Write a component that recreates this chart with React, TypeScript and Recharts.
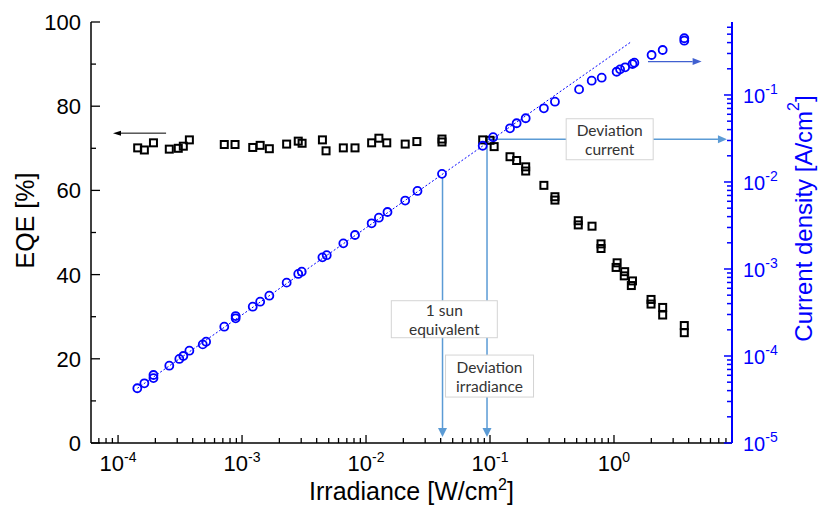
import React from "react";
import {
  ScatterChart,
  Scatter,
  XAxis,
  YAxis,
  ReferenceLine,
  ReferenceDot,
} from "recharts";

// EQE (black squares) vs irradiance
const eqeIrradiance = [
  1.44e-4, 1.63e-4, 1.93e-4, 2.59e-4, 3.06e-4, 3.36e-4, 3.76e-4, 7.19e-4,
  8.78e-4, 1.22e-3, 1.4e-3, 1.66e-3, 2.29e-3, 2.84e-3, 3.05e-3, 4.45e-3,
  4.76e-3, 6.56e-3, 8.15e-3, 1.11e-2, 1.27e-2, 1.47e-2, 2.07e-2, 2.57e-2,
  4.1e-2, 4.1e-2, 8.73e-2, 0.1, 0.108, 0.145, 0.164, 0.194, 0.194, 0.272,
  0.334, 0.334, 0.515, 0.515, 0.665, 0.786, 0.786, 1.06, 1.04, 1.22, 1.21,
  1.41, 1.38, 1.99, 1.99, 2.47, 2.47, 3.69, 3.69,
];
const eqeValues = [
  70.1, 69.6, 71.3, 69.8, 70.0, 70.5, 72.0, 70.9, 70.9, 70.2, 70.7, 69.9,
  71.0, 71.7, 71.2, 72.0, 69.4, 70.1, 70.1, 71.3, 72.4, 71.3, 71.0, 71.6,
  72.2, 71.5, 72.0, 71.9, 70.4, 68.0, 67.1, 65.6, 64.6, 61.2, 58.5, 57.7,
  52.8, 51.8, 51.5, 47.3, 46.2, 42.8, 41.7, 40.7, 39.7, 38.5, 37.4, 34.1,
  33.0, 32.2, 30.4, 27.9, 26.2,
];

// Current density (blue circles) vs irradiance
const jIrradiance = [
  1.43e-4, 1.63e-4, 1.93e-4, 1.93e-4, 2.59e-4, 3.12e-4, 3.36e-4, 3.76e-4,
  4.82e-4, 5.13e-4, 7.19e-4, 8.88e-4, 8.88e-4, 1.22e-3, 1.4e-3, 1.66e-3,
  2.29e-3, 2.84e-3, 3.03e-3, 4.45e-3, 4.82e-3, 6.56e-3, 8.15e-3, 1.11e-2,
  1.27e-2, 1.49e-2, 2.07e-2, 2.6e-2, 4.1e-2, 8.73e-2, 0.106, 0.145, 0.164,
  0.194, 0.272, 0.334, 0.523, 0.661, 0.796, 1.05, 1.12, 1.23, 1.41, 1.46,
  2.01, 2.47, 3.69, 3.69,
];
const jValues = [
  4.26e-5, 4.85e-5, 6.05e-5, 5.58e-5, 7.74e-5, 9.25e-5, 1.0e-4, 1.15e-4,
  1.36e-4, 1.46e-4, 2.17e-4, 2.71e-4, 2.88e-4, 3.69e-4, 4.21e-4, 4.93e-4,
  6.97e-4, 8.77e-4, 9.31e-4, 1.36e-3, 1.44e-3, 1.97e-3, 2.46e-3, 3.35e-3,
  3.89e-3, 4.52e-3, 6.12e-3, 7.89e-3, 1.24e-2, 2.61e-2, 3.27e-2, 4.14e-2,
  4.73e-2, 5.4e-2, 7.03e-2, 8.38e-2, 0.116, 0.146, 0.158, 0.185, 0.197,
  0.208, 0.227, 0.235, 0.288, 0.329, 0.449, 0.421,
];

// linear fit J = 0.297 * I, end points
const fitIrradiance = [1.43e-4, 1.37];
const fitValues = [4.25e-5, 0.407];

const xDecades = [1e-4, 1e-3, 1e-2, 1e-1, 1];
const jDecades = [1e-5, 1e-4, 1e-3, 1e-2, 1e-1];
const eqeTicks = [0, 10, 20, 30, 40, 50, 60, 70, 80, 90, 100];

const X_DOMAIN = [6.05e-5, 8.95];
const J_DOMAIN = [1e-5, 0.69];

const ONE_SUN = 0.0414;
const DEV_IRR = 0.0946;
const DEV_J = 0.031;

const eqeData = eqeIrradiance.map((irr, i) => ({ irr, eqe: eqeValues[i] }));
const jData = jIrradiance.map((irr, i) => ({ irr, j: jValues[i] }));
const fitData = fitIrradiance.map((irr, i) => ({ irr, j: fitValues[i] }));

// decades plus the 2..9 minor ticks inside a domain
const logTicks = (decades: number[], lo: number, hi: number) => {
  const out: number[] = [];
  [decades[0] / 10, ...decades].forEach((d) => {
    for (let k = 1; k <= 9; k++) {
      const v = Number((d * k).toPrecision(3));
      if (v >= lo * 0.999 && v <= hi * 1.001) out.push(v);
    }
  });
  return out;
};
const xTicks = logTicks(xDecades, X_DOMAIN[0], X_DOMAIN[1]);
const jTicks = logTicks(jDecades, J_DOMAIN[0], J_DOMAIN[1]);

const FONT = "'Liberation Sans', Arial, sans-serif";
const NOTE_FONT = "Lato, 'Open Sans', sans-serif";
const BLUE = "#0000ff";
const NOTE = "#5b9bd5";

const expOf = (v: number) => Math.round(Math.log10(v));
const isDecade = (v: number) => Math.abs(Math.log10(v) - expOf(v)) < 1e-6;

function BottomTick({ x, y, payload }: any) {
  const v = payload.value;
  const major = isDecade(v);
  return (
    <g>
      <line x1={x} y1={y} x2={x} y2={y - (major ? 8 : 5)} stroke="#000" strokeWidth={1.3} />
      {major && (
        <text x={x} y={y + 28} textAnchor="middle" fontSize={22} fontFamily={FONT} fill="#000">
          10
          <tspan dy={-9} fontSize={14}>
            {expOf(v)}
          </tspan>
        </text>
      )}
    </g>
  );
}

function TopTick({ x, y, payload }: any) {
  const major = isDecade(payload.value);
  return <line x1={x} y1={y} x2={x} y2={y + (major ? 8 : 5)} stroke="#000" strokeWidth={1.3} />;
}

function LeftTick({ x, y, payload }: any) {
  const v = payload.value;
  const major = v % 20 === 0;
  return (
    <g>
      <line x1={x} y1={y} x2={x + (major ? 9 : 5)} y2={y} stroke="#000" strokeWidth={1.3} />
      {major && (
        <text x={x - 10} y={y + 8} textAnchor="end" fontSize={22} fontFamily={FONT} fill="#000">
          {v}
        </text>
      )}
    </g>
  );
}

function RightTick({ x, y, payload }: any) {
  const v = payload.value;
  const major = isDecade(v);
  return (
    <g>
      <line x1={x} y1={y} x2={x - (major ? 8 : 5)} y2={y} stroke={BLUE} strokeWidth={1.5} />
      {major && (
        <text x={x + 11} y={y + 8} textAnchor="start" fontSize={20} fontFamily={FONT} fill={BLUE}>
          10
          <tspan dy={-9} fontSize={14}>
            {expOf(v)}
          </tspan>
        </text>
      )}
    </g>
  );
}

// line with a filled triangular head at the second point
const arrow =
  (color: string, width: number, head: number, half: number) => (p: any) => {
    const { x1, y1, x2, y2 } = p;
    const a = Math.atan2(y2 - y1, x2 - x1);
    const bx = x2 - head * Math.cos(a);
    const by = y2 - head * Math.sin(a);
    const nx = -Math.sin(a) * half;
    const ny = Math.cos(a) * half;
    return (
      <g>
        <line x1={x1} y1={y1} x2={bx} y2={by} stroke={color} strokeWidth={width} />
        <polygon
          points={`${x2},${y2} ${bx + nx},${by + ny} ${bx - nx},${by - ny}`}
          fill={color}
        />
      </g>
    );
  };

// white text box centred on a data point
const noteBox = (lines: string[], w: number, h: number) => (p: any) => {
  const { cx, cy } = p;
  return (
    <g>
      <rect x={cx - w / 2} y={cy - h / 2} width={w} height={h} fill="#fff" stroke="#d4d4d4" strokeWidth={1} />
      {lines.map((t, i) => (
        <text
          key={t}
          x={cx}
          y={cy - 3 + i * 18.5}
          textAnchor="middle"
          fontSize={15.5}
          fontFamily={NOTE_FONT}
          fill="#333"
        >
          {t}
        </text>
      ))}
    </g>
  );
};

const square = (p: any) => (
  <rect x={p.cx - 3.5} y={p.cy - 3.5} width={7} height={7} fill="none" stroke="#000" strokeWidth={2} />
);
const ring = (p: any) => (
  <circle cx={p.cx} cy={p.cy} r={4} fill="none" stroke={BLUE} strokeWidth={1.8} />
);

export default function App() {
  return (
    <div style={{ position: "absolute", left: 0, top: 0, background: "#fff" }}>
      <ScatterChart width={820} height={506} margin={{ top: 22, right: 0, bottom: 0, left: 0 }}>
        <XAxis
          xAxisId="b"
          type="number"
          dataKey="irr"
          scale="log"
          domain={X_DOMAIN}
          allowDataOverflow
          ticks={xTicks}
          interval={0}
          height={63}
          tickSize={0}
          tickMargin={0}
          tick={<BottomTick />}
          axisLine={{ stroke: "#000", strokeWidth: 1.5 }}
          label={({ viewBox }: any) => (
            <text
              x={viewBox.x + viewBox.width / 2}
              y={viewBox.y + 57}
              textAnchor="middle"
              fontSize={25}
              fontFamily={FONT}
              fill="#000"
            >
              Irradiance [W/cm
              <tspan dy={-10} fontSize={16}>
                2
              </tspan>
              <tspan dy={10}>]</tspan>
            </text>
          )}
        />
        <XAxis
          xAxisId="t"
          orientation="top"
          type="number"
          dataKey="irr"
          scale="log"
          domain={X_DOMAIN}
          allowDataOverflow
          ticks={xTicks}
          interval={0}
          height={0}
          tickSize={0}
          tickMargin={0}
          tick={<TopTick />}
          axisLine={{ stroke: "#000", strokeWidth: 1.5 }}
        />
        <YAxis
          yAxisId="eqe"
          type="number"
          dataKey="eqe"
          domain={[0, 100]}
          allowDataOverflow
          ticks={eqeTicks}
          interval={0}
          width={91}
          tickSize={0}
          tickMargin={0}
          tick={<LeftTick />}
          axisLine={{ stroke: "#000", strokeWidth: 1.5 }}
          label={({ viewBox }: any) => (
            <text
              x={25}
              y={viewBox.y + viewBox.height / 2 - 12}
              transform={`rotate(-90, 25, ${viewBox.y + viewBox.height / 2 - 12})`}
              textAnchor="middle"
              dominantBaseline="central"
              fontSize={25}
              fontFamily={FONT}
              fill="#000"
            >
              EQE [%]
            </text>
          )}
        />
        <YAxis
          yAxisId="j"
          orientation="right"
          type="number"
          dataKey="j"
          scale="log"
          domain={J_DOMAIN}
          allowDataOverflow
          ticks={jTicks}
          interval={0}
          width={88}
          tickSize={0}
          tickMargin={0}
          tick={<RightTick />}
          axisLine={{ stroke: BLUE, strokeWidth: 2 }}
          label={({ viewBox }: any) => (
            <text
              x={803}
              y={viewBox.y + viewBox.height / 2 - 14}
              transform={`rotate(-90, 803, ${viewBox.y + viewBox.height / 2 - 14})`}
              textAnchor="middle"
              dominantBaseline="central"
              fontSize={24}
              fontFamily={FONT}
              fill={BLUE}
            >
              Current density [A/cm
              <tspan dy={-10} fontSize={16}>
                2
              </tspan>
              <tspan dy={10}>]</tspan>
            </text>
          )}
        />

        {/* 1 sun marker */}
        <ReferenceLine
          xAxisId="b"
          yAxisId="eqe"
          segment={[{ x: ONE_SUN, y: 63 }, { x: ONE_SUN, y: 1.4 }]}
          shape={arrow(NOTE, 1.5, 9, 4.5)}
        />
        <ReferenceDot
          xAxisId="b"
          yAxisId="eqe"
          x={0.0428}
          y={29.4}
          shape={noteBox(["1 sun", "equivalent"], 106, 37)}
        />
        {/* deviation point: irradiance down, current to the right */}
        <ReferenceLine
          xAxisId="b"
          yAxisId="eqe"
          segment={[{ x: DEV_IRR, y: 72.1 }, { x: DEV_IRR, y: 1.4 }]}
          shape={arrow(NOTE, 1.5, 9, 4.5)}
        />
        <ReferenceLine
          xAxisId="b"
          yAxisId="j"
          segment={[{ x: DEV_IRR, y: DEV_J }, { x: 8.15, y: DEV_J }]}
          shape={arrow(NOTE, 1.3, 9, 4)}
        />
        <ReferenceDot
          xAxisId="b"
          yAxisId="eqe"
          x={0.0991}
          y={15.9}
          shape={noteBox(["Deviation", "irradiance"], 88, 42)}
        />
        <ReferenceDot
          xAxisId="b"
          yAxisId="j"
          x={0.923}
          y={DEV_J}
          shape={noteBox(["Deviation", "current"], 87, 41)}
        />
        {/* axis pointers */}
        <ReferenceLine
          xAxisId="b"
          yAxisId="eqe"
          segment={[{ x: 2.44e-4, y: 73.6 }, { x: 9.1e-5, y: 73.6 }]}
          shape={arrow("#000", 1, 8, 2.5)}
        />
        <ReferenceLine
          xAxisId="b"
          yAxisId="j"
          segment={[{ x: 1.88, y: 0.242 }, { x: 5.09, y: 0.242 }]}
          shape={arrow("#4060d0", 1.3, 9, 3.5)}
        />

        <Scatter
          xAxisId="b"
          yAxisId="j"
          data={fitData}
          dataKey="j"
          shape={() => <g />}
          line={{ stroke: BLUE, strokeWidth: 1, strokeDasharray: "2 2" }}
          isAnimationActive={false}
        />
        <Scatter
          xAxisId="b"
          yAxisId="eqe"
          data={eqeData}
          dataKey="eqe"
          shape={square}
          isAnimationActive={false}
        />
        <Scatter
          xAxisId="b"
          yAxisId="j"
          data={jData}
          dataKey="j"
          shape={ring}
          isAnimationActive={false}
        />
      </ScatterChart>
    </div>
  );
}
